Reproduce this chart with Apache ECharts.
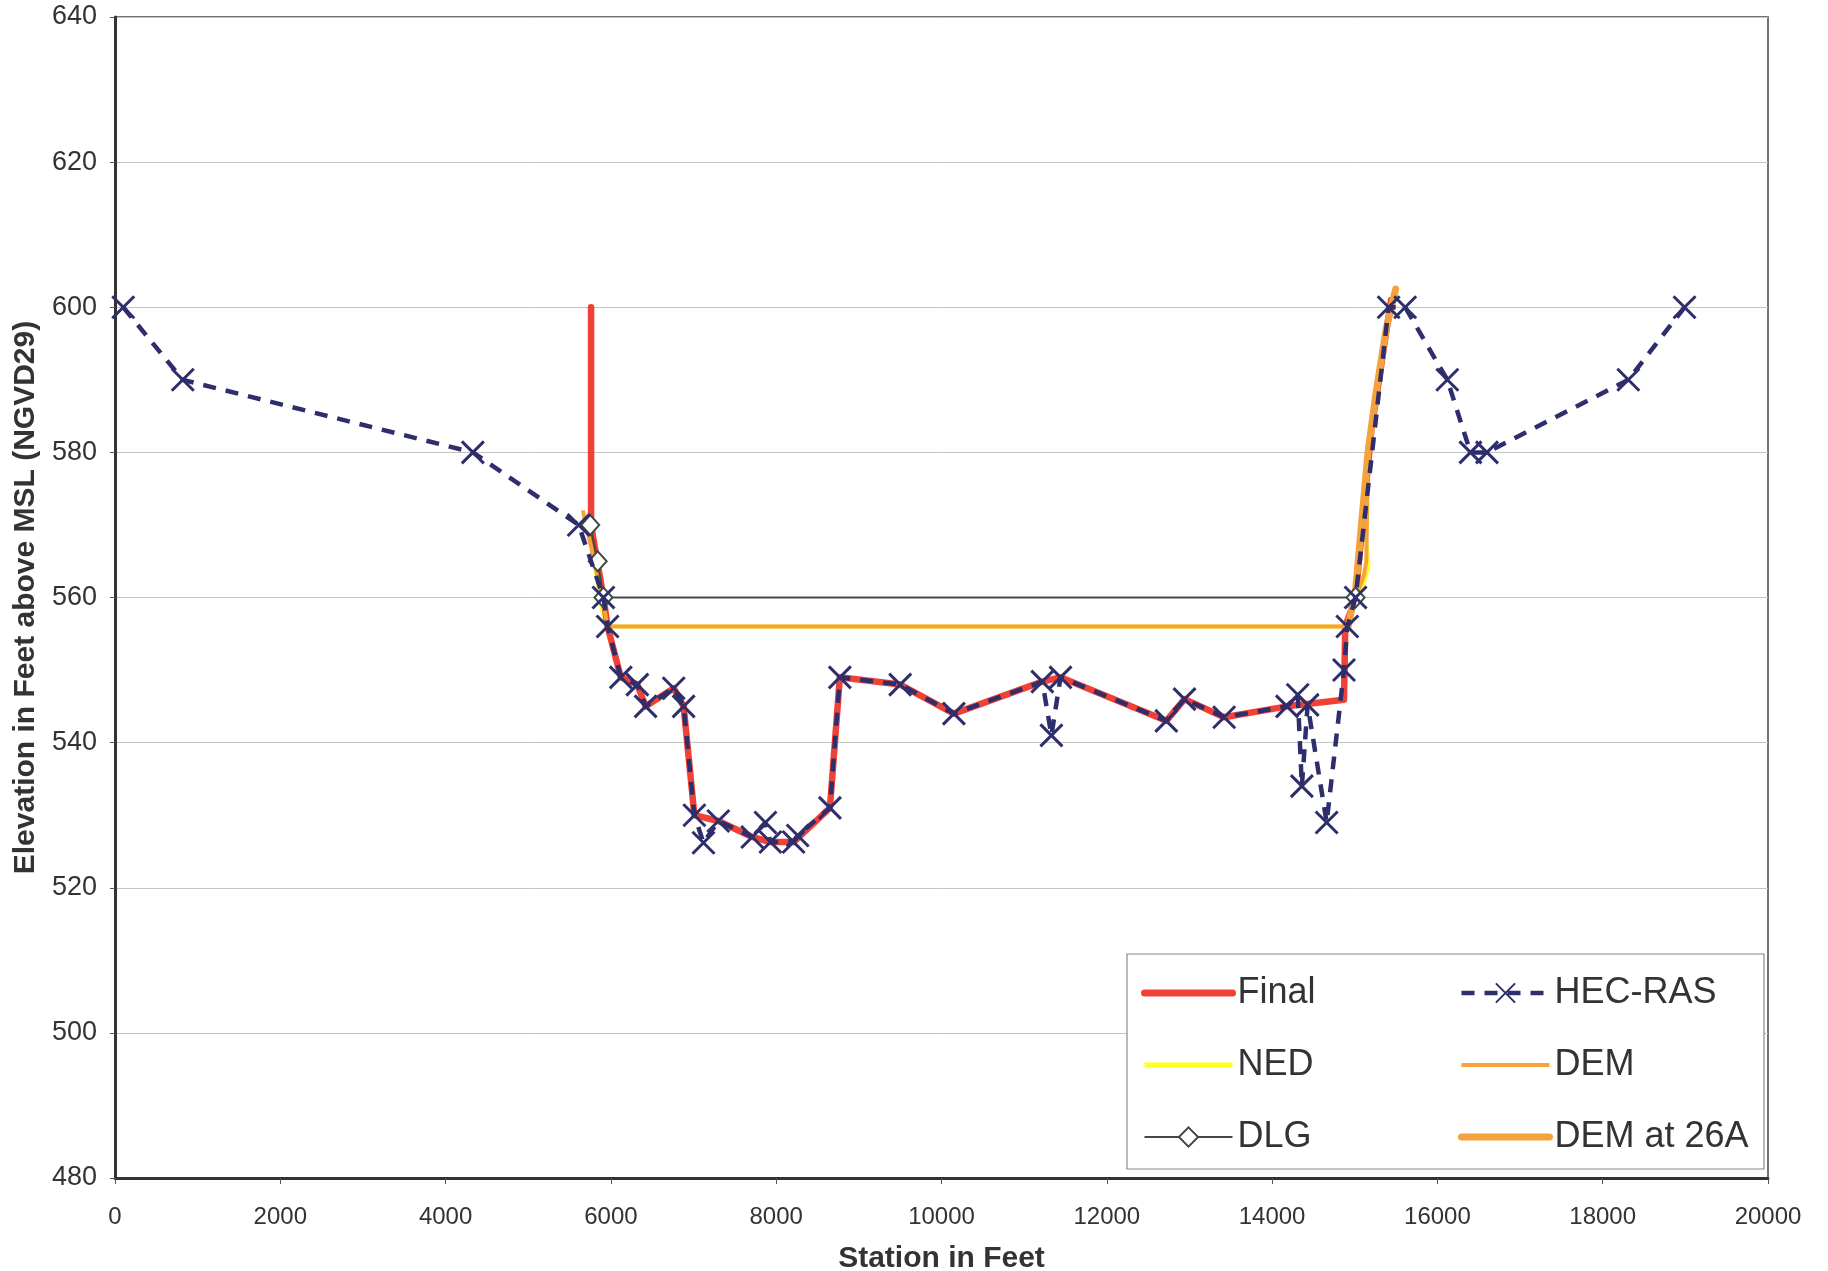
<!DOCTYPE html>
<html>
<head>
<meta charset="utf-8">
<script src="https://cdn.jsdelivr.net/npm/echarts@6/dist/echarts.min.js"></script>
<style>
html,body{margin:0;padding:0;background:#fff;}
#chart{width:1828px;height:1271px;}
</style>
</head>
<body>
<div id="chart"></div>
<script>
// ---- Data (station in feet, elevation in feet) ----
const finalStation = [5760, 5760, 5910, 5960, 6120, 6320, 6420, 6760, 6880, 7010, 7300, 7710, 7930, 8210, 8650, 8770, 9500, 10150, 11220, 11440, 12720, 12940, 13420, 14180, 14870, 14885, 15010, 15200, 15440];
const finalElev    = [600, 570, 560, 556, 549, 548, 545, 547.5, 545, 530, 529.2, 527, 526.3, 526.3, 531, 549, 548, 544, 548.4, 549, 543, 546, 543.5, 545, 545.9, 556, 560, 583, 601];

const hecStation = [100, 820, 4330, 5610, 5910, 5960, 6120, 6320, 6420, 6760, 6880, 7010, 7120, 7300, 7710, 7870, 7930, 8210, 8260, 8650, 8770, 9500, 10150, 11220, 11330, 11440, 12720, 12940, 13420, 14180, 14310, 14360, 14430, 14660, 14870, 14910, 15010, 15410, 15610, 16120, 16400, 16600, 18310, 18990];
const hecElev    = [600, 590, 580, 570, 560, 556, 549, 548, 545, 547.5, 545, 530, 526.2, 529.2, 527, 529, 526.3, 526.3, 527.2, 531, 549, 548, 544, 548.4, 541, 549, 543, 546, 543.5, 545, 546.6, 534, 545.2, 529, 550, 556, 560, 600, 600, 590, 580, 580, 590, 600];

const nedStation = [5680, 5780, 5900, 5960, 14900, 15010, 15100, 15168, 15100, 15160, 15255, 15380, 15470];
const nedElev    = [571, 566, 558, 556, 556, 561, 561.5, 564.5, 572, 580, 588, 597, 601];

const demStation = [5660, 5760, 5910, 5960, 14910, 15010, 15110, 15140, 15160, 15255, 15380, 15470];
const demElev    = [572, 567, 559, 556, 556, 560, 563, 565, 580, 588, 597, 601];

const dlgStation = [5750, 5840, 5910, 15010];
const dlgElev    = [570, 565, 560, 560];

const dem26aStation = [14920, 15010, 15160, 15255, 15380, 15495];
const dem26aElev    = [556, 561, 580, 588, 597, 602.5];

const xTicks = [0, 2000, 4000, 6000, 8000, 10000, 12000, 14000, 16000, 18000, 20000];
const yTicks = [480, 500, 520, 540, 560, 580, 600, 620, 640];

function zip(a, b) { return a.map((v, i) => [v, b[i]]); }

const FONT = "'Liberation Sans', Arial, sans-serif";
const xMark = 'path://M0,0L10,10M10,0L0,10';

const chart = echarts.init(document.getElementById('chart'), null, {renderer: 'canvas'});
const hidden = {opacity: 0};
const option = {
  animation: false,
  backgroundColor: '#ffffff',
  grid: {left: 115, right: 60, top: 17, bottom: 93, show: true, borderColor: '#444', borderWidth: 1.5,
         backgroundColor: 'transparent', containLabel: false, outerBoundsMode: 'none'},
  xAxis: {
    type: 'value', min: xTicks[0], max: xTicks[xTicks.length - 1], interval: 2000,
    name: 'Station in Feet', nameLocation: 'middle', nameGap: 66,
    nameTextStyle: {fontFamily: FONT, fontWeight: 'bold', fontSize: 30, color: '#333'},
    axisLine: {show: true, lineStyle: {color: '#333', width: 3}},
    axisTick: {show: true, length: 6, lineStyle: {color: '#555'}},
    axisLabel: {fontFamily: FONT, fontSize: 24, color: '#333', margin: 27, formatter: v => String(v)},
    splitLine: {show: false}
  },
  yAxis: {
    type: 'value', min: yTicks[0], max: yTicks[yTicks.length - 1], interval: 20,
    name: 'Elevation in Feet above MSL (NGVD29)', nameLocation: 'middle', nameGap: 72, nameRotate: 90,
    nameTextStyle: {fontFamily: FONT, fontWeight: 'bold', fontSize: 30, color: '#333'},
    axisLine: {show: true, lineStyle: {color: '#333', width: 3}},
    axisTick: {show: true, length: 5, lineStyle: {color: '#555'}},
    axisLabel: {fontFamily: FONT, fontSize: 27, color: '#333', margin: 18, formatter: v => String(v)},
    splitLine: {show: true, lineStyle: {color: '#c4c4c4', width: 1}}
  },
  legend: [
    {
      orient: 'vertical', left: 1136, top: 970, itemWidth: 88, itemHeight: 24, itemGap: 36,
      data: [
        {name: 'Final', itemStyle: hidden, lineStyle: {width: 7}},
        {name: 'NED', itemStyle: hidden, lineStyle: {width: 5}},
        {name: 'DLG', lineStyle: {width: 2}}
      ],
      textStyle: {fontFamily: FONT, fontSize: 36, color: '#333'}, z: 6
    },
    {
      orient: 'vertical', left: 1453, top: 970, itemWidth: 88, itemHeight: 24, itemGap: 36,
      data: [
        {name: 'HEC-RAS', lineStyle: {width: 4.5}},
        {name: 'DEM', itemStyle: hidden, lineStyle: {width: 4}},
        {name: 'DEM at 26A', itemStyle: hidden, lineStyle: {width: 7}}
      ],
      textStyle: {fontFamily: FONT, fontSize: 36, color: '#333'}, z: 6
    }
  ],
  graphic: [{
    type: 'rect', z: 5, zlevel: 0, silent: true,
    shape: {x: 1127, y: 954, width: 637, height: 215},
    style: {fill: '#ffffff', stroke: '#8a8a8a', lineWidth: 1.2}
  }],
  series: [
    {
      name: 'NED', type: 'line', data: zip(nedStation, nedElev), symbol: 'none',
      lineStyle: {color: '#ffff22', width: 4}, itemStyle: {color: '#ffff22'}, z: 2
    },
    {
      name: 'Final', type: 'line', data: zip(finalStation, finalElev), symbol: 'none',
      lineStyle: {color: '#ef4136', width: 6.5, cap: 'round', join: 'round'}, itemStyle: {color: '#ef4136'}, z: 3
    },
    {
      name: 'DEM', type: 'line', data: zip(demStation, demElev), symbol: 'none',
      lineStyle: {color: '#f4a43a', width: 4}, itemStyle: {color: '#f4a43a'}, z: 4
    },
    {
      name: 'DEM at 26A', type: 'line', data: zip(dem26aStation, dem26aElev), symbol: 'none',
      lineStyle: {color: '#f5a23c', width: 7, cap: 'round', join: 'round'}, itemStyle: {color: '#f5a23c'}, z: 4
    },
    {
      name: 'DLG', type: 'line', data: zip(dlgStation, dlgElev), symbol: 'diamond', symbolSize: [18, 20],
      lineStyle: {color: '#3f4a44', width: 2}, itemStyle: {color: '#ffffff', borderColor: '#3f4a44', borderWidth: 2}, z: 5
    },
    {
      name: 'HEC-RAS', type: 'line', data: zip(hecStation, hecElev), symbol: xMark, symbolSize: 22,
      lineStyle: {color: '#2d2e6b', width: 4.5, type: [13, 10]},
      itemStyle: {color: '#2d2e6b', borderColor: '#2d2e6b', borderWidth: 3}, z: 6
    }
  ]
};
chart.setOption(option);
</script>
</body>
</html>
